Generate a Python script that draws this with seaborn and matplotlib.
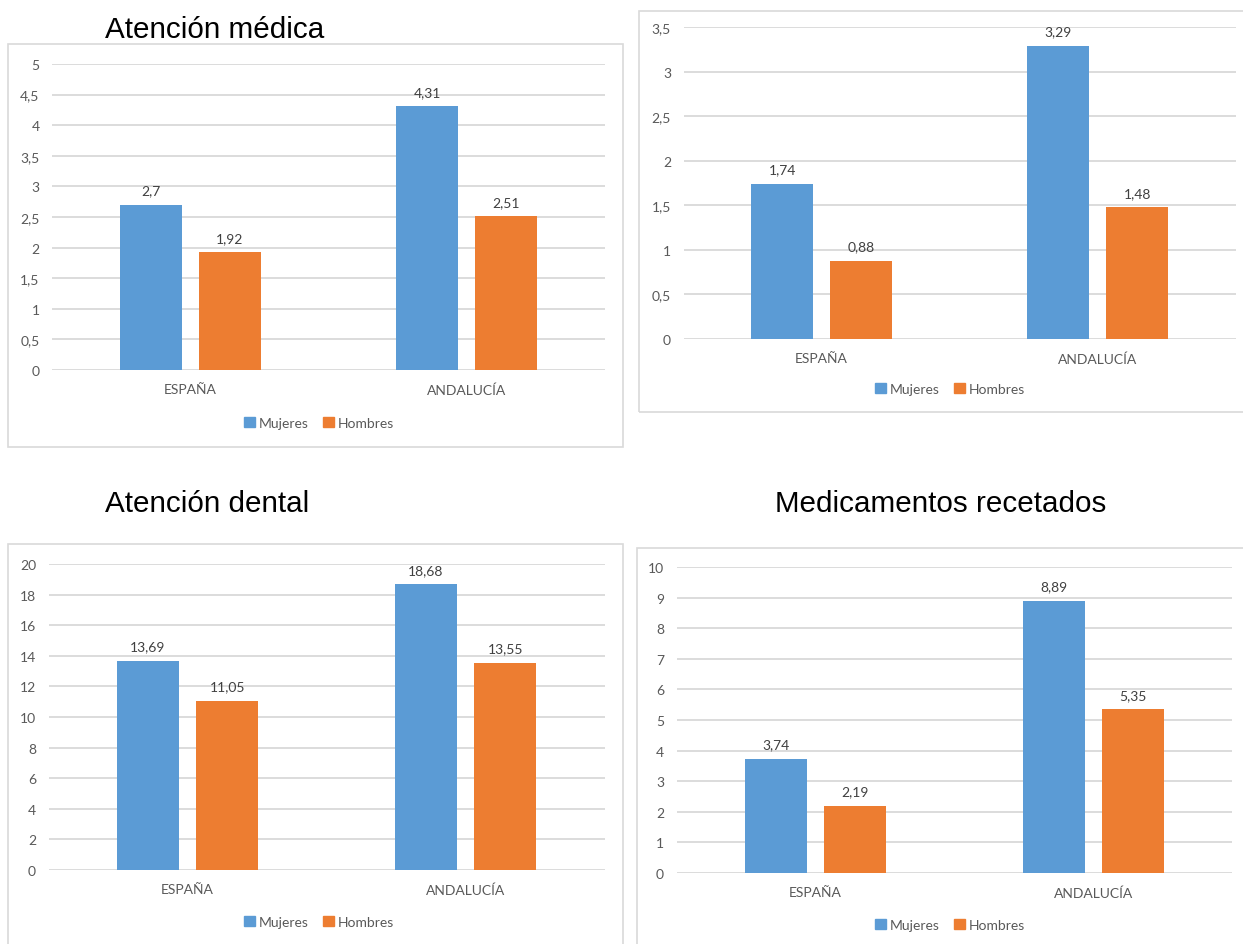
import matplotlib
matplotlib.use("Agg")
import matplotlib.pyplot as plt
import matplotlib.patches as mpatches
from matplotlib.ticker import FuncFormatter, MultipleLocator
import pandas as pd
import seaborn as sns

# ---- data -------------------------------------------------------------
regions = ["ESPAÑA", "ANDALUCÍA"]
series = ["Mujeres", "Hombres"]

medica_mujeres = [2.70, 4.31]
medica_hombres = [1.92, 2.51]

general_mujeres = [1.74, 3.29]
general_hombres = [0.88, 1.48]

dental_mujeres = [13.69, 18.68]
dental_hombres = [11.05, 13.55]

recetas_mujeres = [3.74, 8.89]
recetas_hombres = [2.19, 5.35]

titles = ["Atención médica", "", "Atención dental", "Medicamentos recetados"]

# ---- style ------------------------------------------------------------
sns.set_theme(style="white")
plt.rcParams["font.family"] = ["Lato", "DejaVu Sans"]

BLUE = "#5B9BD5"
ORANGE = "#ED7D31"
GRID = "#D9D9D9"
TICK = "#595959"
LABEL = "#404040"
FS = 10

W, H = 1243, 945
fig = plt.figure(figsize=(W / 100, H / 100), dpi=100)
fig.patch.set_facecolor("white")


def rect(left, top, right, bottom):
    return [left / W, 1 - bottom / H, (right - left) / W, (bottom - top) / H]


def comma(v, _pos=None):
    return f"{v:g}".replace(".", ",")


def frame(left, top, right, bottom):
    fig.patches.append(mpatches.Rectangle(
        (left / W, 1 - bottom / H), (right - left) / W, (bottom - top) / H,
        transform=fig.transFigure, fill=False, edgecolor=GRID, linewidth=1.2,
        zorder=0))


def panel(box, mujeres, hombres, ymax, step, legend_xy):
    ax = fig.add_axes(rect(*box))
    df = pd.DataFrame({
        "region": regions * 2,
        "serie": [series[0]] * 2 + [series[1]] * 2,
        "valor": list(mujeres) + list(hombres),
    })
    sns.barplot(data=df, x="region", y="valor", hue="serie",
                order=regions, hue_order=series,
                palette=[BLUE, ORANGE], width=0.571, gap=0.215,
                linewidth=0, saturation=1, ax=ax, zorder=3)
    ax.set_xlim(-0.5, 1.5)
    ax.set_ylim(0, ymax)
    ax.yaxis.set_major_locator(MultipleLocator(step))
    ax.yaxis.set_major_formatter(FuncFormatter(comma))
    ax.grid(axis="y", color=GRID, linewidth=1.3, zorder=0)
    ax.set_axisbelow(True)
    for s in ax.spines.values():
        s.set_visible(False)
    ax.set_xlabel("")
    ax.set_ylabel("")
    ax.tick_params(axis="y", length=0, pad=9, labelsize=FS, labelcolor=TICK)
    ax.tick_params(axis="x", length=0, pad=9.5, labelsize=FS, labelcolor=TICK)
    for cont in ax.containers:
        ax.bar_label(cont, labels=[comma(v) for v in cont.datavalues],
                     padding=6, fontsize=FS, color=LABEL)
    handles = [mpatches.Patch(color=BLUE), mpatches.Patch(color=ORANGE)]
    ax.legend(handles, series, loc="center",
              bbox_to_anchor=(legend_xy[0] / W, 1 - legend_xy[1] / H),
              bbox_transform=fig.transFigure, ncol=2, frameon=False,
              handlelength=0.75, handleheight=0.75, handletextpad=0.25,
              columnspacing=1.1, fontsize=FS, labelcolor=TICK,
              borderaxespad=0, borderpad=0)
    return ax


# chart frames
frame(8, 45, 623, 448)
frame(639, 12, 1250, 413)
frame(8, 545, 623, 960)
frame(637, 549, 1250, 960)

panel((52, 65, 605, 371), medica_mujeres, medica_hombres, 5, 0.5, (319, 424))
panel((683.5, 28, 1236, 340), general_mujeres, general_hombres, 3.5, 0.5, (950, 390))
panel((48.5, 565, 604.5, 871), dental_mujeres, dental_hombres, 20, 2, (319, 923))
panel((676.5, 568, 1232.5, 874), recetas_mujeres, recetas_hombres, 10, 1, (950, 926))

title_kw = dict(family=["Liberation Sans", "DejaVu Sans"], fontsize=21.3,
                color="black", va="center")
fig.text(105 / W, 1 - 30 / H, titles[0], ha="left", **title_kw)
fig.text(105 / W, 1 - 504 / H, titles[2], ha="left", **title_kw)
fig.text(941 / W, 1 - 504 / H, titles[3], ha="center", **title_kw)

fig.savefig("out.png", dpi=100, facecolor="white")
